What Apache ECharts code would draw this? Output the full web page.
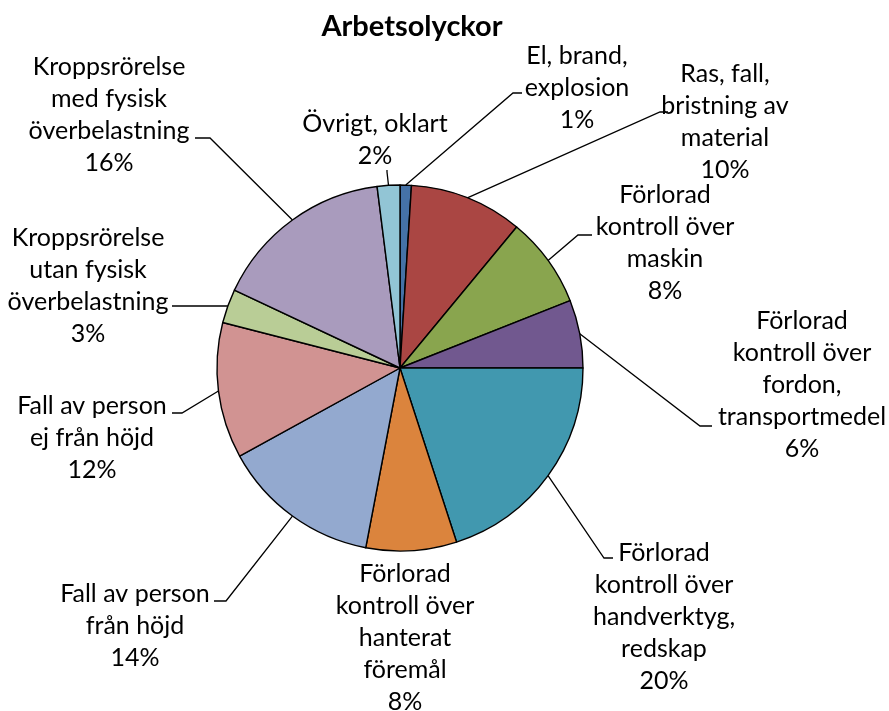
<!DOCTYPE html>
<html>
<head>
<meta charset="utf-8">
<title>Arbetsolyckor</title>
<script src="https://cdn.jsdelivr.net/npm/echarts@6/dist/echarts.min.js"></script>
<style>
  html, body { margin: 0; padding: 0; background: #fff; }
  #chart { width: 889px; height: 711px; }
</style>
</head>
<body>
<div id="chart"></div>
<script>
// data
const categories = [
    'El, brand,\nexplosion',
    'Ras, fall,\nbristning av\nmaterial',
    'Förlorad\nkontroll över\nmaskin',
    'Förlorad\nkontroll över\nfordon,\ntransportmedel',
    'Förlorad\nkontroll över\nhandverktyg,\nredskap',
    'Förlorad\nkontroll över\nhanterat\nföremål',
    'Fall av person\nfrån höjd',
    'Fall av person\nej från höjd',
    'Kroppsrörelse\nutan fysisk\növerbelastning',
    'Kroppsrörelse\nmed fysisk\növerbelastning',
    'Övrigt, oklart'
];
const shares = [1, 10, 8, 6, 20, 8, 14, 12, 3, 16, 2];

// look
const sliceColors = ['#4572A7', '#AA4643', '#89A54E', '#71588F', '#4198AF', '#DB843D',
                     '#93A9CF', '#D19392', '#B9CD96', '#A99BBD', '#92C5D5'];
const pieCenter = [400, 368];
const pieRadius = 183;

// where each label block sits (centre of the text block)
const labelSpots = [
    [577, 88], [725, 122], [665, 243], [802, 385], [664, 617], [405, 638],
    [135, 626], [92, 438], [88, 286], [109, 115], [375, 140]
];
// leader line: bend point, end point (null = no leader)
const leaders = [
    [[513, 93], [522, 93]],
    [[660, 112], [668, 112]],
    [[578, 235], [592, 235]],
    [[700, 426], [712, 426]],
    [[604, 558], [613, 558]],
    null,
    [[226, 601], [214, 601]],
    [[182, 413], [172, 413]],
    [[182, 306], [172, 306]],
    [[210, 138], [195, 138]],
    [[387, 172], [387, 170]]
];

const total = shares.reduce((a, b) => a + b, 0);
function arcMid(i) {
    let before = 0;
    for (let k = 0; k < i; k++) before += shares[k];
    const frac = (before + shares[i] / 2) / total;
    const a = frac * Math.PI * 2;
    return [pieCenter[0] + pieRadius * Math.sin(a), pieCenter[1] - pieRadius * Math.cos(a)];
}

const chart = echarts.init(document.getElementById('chart'));
chart.setOption({
    animation: false,
    title: {
        text: 'Arbetsolyckor',
        left: 407,
        top: 7,
        textAlign: 'center',
        textStyle: {
            fontFamily: 'Lato',
            fontWeight: 'bold',
            fontSize: 29,
            color: '#000'
        }
    },
    series: [
        {
            type: 'pie',
            center: pieCenter,
            radius: pieRadius,
            startAngle: 90,
            clockwise: true,
            percentPrecision: 0,
            avoidLabelOverlap: false,
            color: sliceColors,
            itemStyle: {
                borderColor: '#000',
                borderWidth: 1.4
            },
            label: {
                position: 'outside',
                formatter: '{b}\n{d}%',
                fontFamily: 'Lato',
                fontSize: 25,
                lineHeight: 32,
                color: '#000',
                align: 'center'
            },
            labelLine: {
                show: true,
                lineStyle: { color: '#000', width: 1.3 }
            },
            emphasis: { disabled: true },
            labelLayout: function (params) {
                const i = params.dataIndex;
                const out = {
                    x: labelSpots[i][0],
                    y: labelSpots[i][1],
                    align: 'center',
                    verticalAlign: 'middle'
                };
                if (leaders[i]) {
                    out.labelLinePoints = [arcMid(i), leaders[i][0], leaders[i][1]];
                }
                return out;
            },
            data: categories.map((name, i) => ({
                name: name,
                value: shares[i],
                labelLine: { show: leaders[i] !== null }
            }))
        }
    ]
});
</script>
</body>
</html>
